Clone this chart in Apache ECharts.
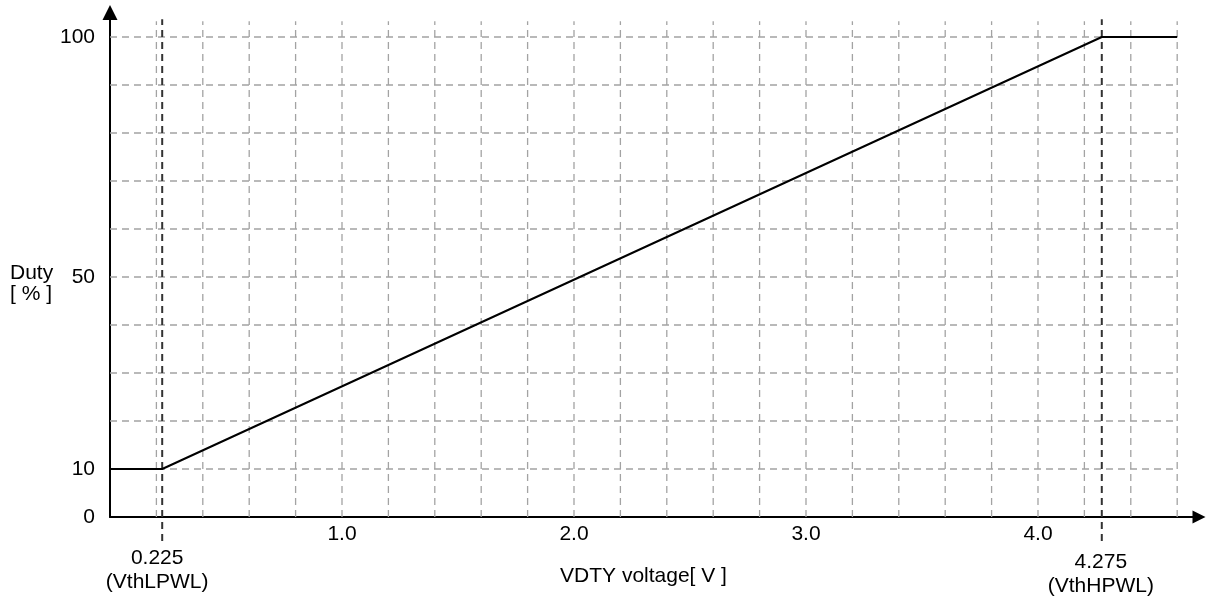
<!DOCTYPE html>
<html>
<head>
<meta charset="utf-8">
<script src="https://cdn.jsdelivr.net/npm/echarts@6/dist/echarts.min.js"></script>
<style>
html,body{margin:0;padding:0;background:#fff;}
#chart{width:1211px;height:603px;}
</style>
</head>
<body>
<div id="chart"></div>
<script>
// ---- data ----
const dutyCurve = [[0, 10], [0.225, 10], [4.275, 100], [4.6, 100]];
const xTickLabels = [1, 2, 3, 4];
const yTickLabels = [0, 10, 50, 100];
const xGridValues = [0.2, 0.4, 0.6, 0.8, 1.0, 1.2, 1.4, 1.6, 1.8, 2.0, 2.2, 2.4, 2.6, 2.8, 3.0, 3.2, 3.4, 3.6, 3.8, 4.0, 4.2, 4.4, 4.6];
const yGridValues = [10, 20, 30, 40, 50, 60, 70, 80, 90, 100];
const markerValues = [0.225, 4.275];
const markerLabels = ['0.225\n(VthLPWL)', '4.275\n(VthHPWL)'];

// ---- layout ----
const FONT = 'Liberation Sans, Arial, Helvetica, sans-serif';
const FS = 21;
const gridLineTop = 103.3;
const gridLineRight = 4.6;
const markerTop = 103.7;
const markerBottom = -5;
const markerLabelDx = [-5, -1];
const markerLabelDy = [29, 33];

const chart = echarts.init(document.getElementById('chart'), null, {renderer: 'canvas'});

const option = {
  animation: false,
  backgroundColor: '#fff',
  title: {
    text: 'Duty\n[ % ]',
    left: 5,
    top: 258,
    textStyle: {fontFamily: FONT, fontSize: FS, fontWeight: 'normal', color: '#000', lineHeight: 21}
  },
  grid: {left: 110, right: 12, top: 12.5, bottom: 86, containLabel: false},
  xAxis: {
    type: 'value',
    min: 0,
    max: 4.694,
    interval: 1,
    name: 'VDTY voltage[ V ]',
    nameLocation: 'middle',
    nameGap: 49,
    nameTextStyle: {fontFamily: FONT, fontSize: FS, color: '#000', padding: [0, 22, 0, 0]},
    axisLine: {show: true, onZero: false, symbol: ['none', 'triangle'], symbolSize: [13, 13], lineStyle: {color: '#000', width: 2}},
    axisTick: {show: false},
    splitLine: {show: false},
    axisLabel: {
      showMinLabel: true,
      showMaxLabel: false,
      margin: 7,
      fontFamily: FONT, fontSize: FS, color: '#000',
      formatter: v => xTickLabels.some(t => Math.abs(t - v) < 1e-6) ? v.toFixed(1) : ''
    }
  },
  yAxis: {
    type: 'value',
    min: 0,
    max: 105.1,
    interval: 10,
    axisLine: {show: true, onZero: false, symbol: ['none', 'triangle'], symbolSize: [15, 15], lineStyle: {color: '#000', width: 2}},
    axisTick: {show: false},
    splitLine: {show: false},
    axisLabel: {
      showMaxLabel: false,
      margin: 15,
      fontFamily: FONT, fontSize: FS, color: '#000',
      formatter: v => yTickLabels.some(t => Math.abs(t - v) < 1e-6) ? String(v) : ''
    }
  },
  series: [
    {
      type: 'custom',
      silent: true,
      clip: false,
      z: 1,
      data: xGridValues.map(v => [v, 0]),
      renderItem: (params, api) => {
        const x = api.value(0);
        const p1 = api.coord([x, 0]);
        const p2 = api.coord([x, gridLineTop]);
        return {type: 'line', shape: {x1: p1[0], y1: p1[1], x2: p2[0], y2: p2[1]},
          style: {stroke: '#a3a3a3', lineWidth: 1.3, lineDash: [7, 5]}};
      }
    },
    {
      type: 'custom',
      silent: true,
      clip: false,
      z: 1,
      data: yGridValues.map(v => [0, v]),
      renderItem: (params, api) => {
        const y = api.value(1);
        const p1 = api.coord([0, y]);
        const p2 = api.coord([gridLineRight, y]);
        return {type: 'line', shape: {x1: p1[0], y1: p1[1], x2: p2[0], y2: p2[1]},
          style: {stroke: '#a3a3a3', lineWidth: 1.3, lineDash: [7, 5]}};
      }
    },
    {
      type: 'custom',
      silent: true,
      clip: false,
      z: 2,
      data: markerValues.map(v => [v, 0]),
      renderItem: (params, api) => {
        const i = params.dataIndex;
        const x = api.value(0);
        const p1 = api.coord([x, markerBottom]);
        const p2 = api.coord([x, markerTop]);
        const p0 = api.coord([x, 0]);
        return {
          type: 'group',
          children: [
            {type: 'line', shape: {x1: p1[0], y1: p1[1], x2: p2[0], y2: p2[1]},
              style: {stroke: '#333', lineWidth: 2, lineDash: [7, 5]}},
            {type: 'text', x: p0[0] + markerLabelDx[i], y: p0[1] + markerLabelDy[i],
              style: {text: markerLabels[i], fill: '#000', fontFamily: FONT, fontSize: FS,
                align: 'center', verticalAlign: 'top', lineHeight: 24}}
          ]
        };
      }
    },
    {
      type: 'line',
      data: dutyCurve,
      symbol: 'none',
      z: 3,
      lineStyle: {color: '#000', width: 2}
    }
  ]
};
chart.setOption(option);
</script>
</body>
</html>
